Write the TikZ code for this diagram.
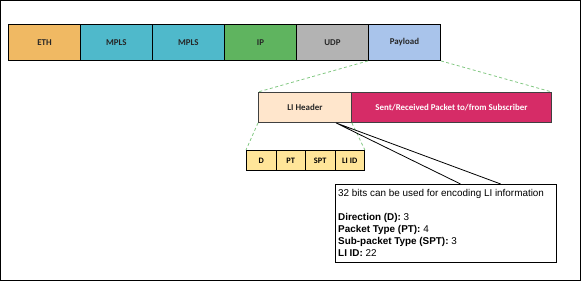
\documentclass[tikz,border=0pt]{standalone}
\usetikzlibrary{calc}
\usepackage{fontspec}
\setmainfont{Liberation Sans}
\newfontfamily\boxfont{Carlito}
\begin{document}
\begin{tikzpicture}[x=1pt,y=-1pt,
  seg/.style={draw=black,line width=0.9pt,minimum height=36pt,inner sep=0pt,font=\boxfont\bfseries\fontsize{8.9}{10}\selectfont,text=black!85},
  sub/.style={draw=black,line width=0.9pt,fill=fieldc,minimum height=20pt,minimum width=29.5pt,inner sep=0pt,font=\boxfont\bfseries\fontsize{8.3}{9}\selectfont},
  zoomline/.style={draw=linec,dashed,dash pattern=on 3pt off 2.5pt,line width=0.8pt},
  callout/.style={draw=black,line width=0.8pt}]
\definecolor{ethc}{HTML}{F0B963}
\definecolor{mplsc}{HTML}{4FB9CB}
\definecolor{ipc}{HTML}{5FB45F}
\definecolor{udpc}{HTML}{B3B3B3}
\definecolor{payc}{HTML}{A9C4EB}
\definecolor{lic}{HTML}{FFE6CC}
\definecolor{redc}{HTML}{D62C67}
\definecolor{fieldc}{HTML}{FFE599}
\definecolor{linec}{HTML}{82C882}
\useasboundingbox (0,0) rectangle (581,281);
\draw[line width=1pt] (0.5,0.5) rectangle (580.5,280.5);
% top row
\node[seg,fill=ethc,minimum width=72pt,anchor=north west] (eth) at (8,24) {ETH};
\node[seg,fill=mplsc,minimum width=72pt,anchor=north west] (mpls1) at (80,24) {MPLS};
\node[seg,fill=mplsc,minimum width=72pt,anchor=north west] (mpls2) at (152,24) {MPLS};
\node[seg,fill=ipc,minimum width=72pt,anchor=north west] (ip) at (224,24) {IP};
\node[seg,fill=udpc,minimum width=72pt,anchor=north west] (udp) at (296,24) {UDP};
\node[seg,fill=payc,minimum width=72pt,anchor=north west] (pay) at (368,24) {Payload};
% second row
\node[seg,fill=lic,minimum width=93pt,minimum height=30pt,anchor=north west,draw=black!75] (lih) at (258,92) {LI Header};
\node[seg,fill=redc,minimum width=200pt,minimum height=30pt,anchor=north west,text=white,draw=black!75] (sent) at (351,92) {Sent/Received Packet to/from Subscriber};
% fields
\node[sub,anchor=north west] (d) at (246,150) {D};
\node[sub,anchor=north west] (pt) at (275.5,150) {PT};
\node[sub,anchor=north west] (spt) at (305,150) {SPT};
\node[sub,anchor=north west] (liid) at (334.5,150) {LI ID};
% zoom lines
\draw[zoomline] (pay.south west) -- (lih.north west);
\draw[zoomline] (pay.south east) -- (sent.north east);
\draw[zoomline] (lih.south west) -- (d.north west);
\draw[zoomline] (lih.south east) -- (liid.north east);
% callout
\node[callout,anchor=north west,minimum width=221pt,minimum height=78pt,inner sep=0pt] (info) at (335,184) {};
\node[anchor=north west,inner sep=0pt,align=left,font=\fontsize{9.9}{12}\selectfont] (infotext) at (338,189.5)
{32 bits can be used for encoding LI information\\[12pt]
\textbf{Direction (D):} 3\\
\textbf{Packet Type (PT):} 4\\
\textbf{Sub-packet Type (SPT):} 3\\
\textbf{LI ID:} 22};
\coordinate (apex) at ($(lih.south west)!0.83!(lih.south east)$);
\coordinate (c1) at ($(info.north west)!0.566!(info.north east)$);
\coordinate (c2) at ($(info.north west)!0.747!(info.north east)$);
\draw[callout] (c1) -- (apex) -- (c2);
\end{tikzpicture}
\end{document}
